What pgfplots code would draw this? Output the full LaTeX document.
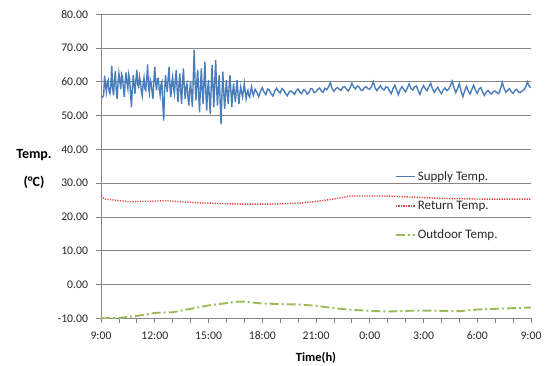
\documentclass[border=0pt]{standalone}
\usepackage{pgfplots}
\pgfplotsset{compat=1.18}
\usepackage{fontspec}
\setmainfont{Carlito}
\definecolor{supplyc}{RGB}{74,126,187}
\definecolor{returnc}{RGB}{222,70,70}
\definecolor{outc}{RGB}{155,187,89}
\definecolor{gridc}{RGB}{134,134,134}
\definecolor{txtc}{RGB}{40,40,40}
\begin{document}
\begin{tikzpicture}
\useasboundingbox (-101bp,-47.7bp) rectangle (446bp,318.3bp);
\begin{axis}[
  scale only axis,
  width=430bp, height=304bp,
  xmin=0, xmax=24, ymin=-10, ymax=80,
  axis x line*=bottom, axis y line*=left,
  axis line style={-, draw=gridc, line width=0.8bp},
  xtick={0,3,...,24},
  xticklabels={9:00,12:00,15:00,18:00,21:00,0:00,3:00,6:00,9:00},
  minor xtick={1,2,...,23},
  ytick={-10,0,...,80},
  tick align=outside,
  major tick length=4.5bp, minor tick length=4.5bp,
  tick style={draw=gridc, line width=0.8bp},
  ymajorgrids,
  grid style={draw=gridc, line width=0.8bp},
  /pgf/number format/assume math mode=true,
  ticklabel style={font=\fontsize{11.7bp}{13bp}\selectfont, text=txtc},
  yticklabel style={xshift=-5bp, /pgf/number format/fixed, /pgf/number format/fixed zerofill, /pgf/number format/precision=2},
  xticklabel style={yshift=-5.5bp},
  xlabel={\textbf{Time(h)}},
  xlabel style={font=\fontsize{12.5bp}{14bp}\selectfont, text=black, at={(axis description cs:0.5,0)}, anchor=center, yshift=-40bp},
  legend style={draw=none, fill=none, at={(0.683,0.49)}, anchor=north west,
    font=\fontsize{13bp}{15bp}\selectfont, text=txtc, row sep=15bp, inner sep=0pt},
  legend cell align=left,
  legend image code/.code={\draw[#1] (0bp,0bp) -- (19bp,0bp);},
]
\addplot[supplyc, line width=1.4bp] coordinates {
(0.00,55.5)(0.05,55.4)(0.10,55.6)(0.15,56.0)(0.20,61.8)(0.25,59.0)(0.30,57.0)(0.35,59.8)(0.40,60.5)(0.45,57.2)
(0.50,56.5)(0.55,58.8)(0.60,64.8)(0.65,58.2)(0.70,56.0)(0.75,60.4)(0.80,63.2)(0.85,57.6)(0.90,55.0)(0.95,59.5)
(1.00,62.5)(1.05,60.2)(1.10,57.8)(1.15,62.3)(1.20,61.5)(1.25,58.0)(1.30,55.5)(1.35,60.1)(1.40,62.8)(1.45,59.6)
(1.50,58.0)(1.55,62.2)(1.60,60.8)(1.65,56.4)(1.70,52.5)(1.75,58.5)(1.80,62.0)(1.85,58.8)(1.90,56.5)(1.95,60.7)
(2.00,63.5)(2.05,59.2)(2.10,58.5)(2.15,61.6)(2.20,60.0)(2.25,57.3)(2.30,55.8)(2.35,59.4)(2.40,61.2)(2.45,58.0)
(2.50,57.5)(2.55,61.0)(2.60,65.2)(2.65,58.6)(2.70,56.8)(2.75,60.6)(2.80,59.5)(2.85,57.0)(2.90,55.0)(2.95,60.3)
(3.00,64.5)(3.05,59.8)(3.10,57.5)(3.15,60.9)(3.20,61.0)(3.25,57.8)(3.30,56.0)(3.35,59.3)(3.40,60.0)(3.45,53.5)
(3.50,48.5)(3.55,57.5)(3.60,62.0)(3.65,59.0)(3.70,57.0)(3.75,61.2)(3.80,64.5)(3.85,58.4)(3.90,55.5)(3.95,59.6)
(4.00,61.5)(4.05,58.2)(4.10,56.5)(4.15,60.8)(4.20,63.5)(4.25,57.6)(4.30,54.0)(4.35,59.2)(4.40,62.5)(4.45,57.0)
(4.50,53.5)(4.55,59.8)(4.60,64.0)(4.65,58.5)(4.70,55.0)(4.75,58.6)(4.80,59.5)(4.85,55.8)(4.90,53.0)(4.95,57.4)
(5.00,60.0)(5.05,56.0)(5.10,52.5)(5.15,61.0)(5.20,69.5)(5.25,60.0)(5.30,54.5)(5.35,60.2)(5.40,63.5)(5.45,56.2)
(5.50,51.0)(5.55,58.4)(5.60,64.0)(5.65,57.4)(5.70,53.5)(5.75,60.3)(5.80,66.0)(5.85,57.0)(5.90,51.5)(5.95,57.8)
(6.00,60.5)(6.05,55.0)(6.10,50.5)(6.15,58.7)(6.20,65.0)(6.25,58.0)(6.30,52.5)(6.35,60.2)(6.40,66.5)(6.45,58.4)
(6.50,53.0)(6.55,58.1)(6.60,62.0)(6.65,54.0)(6.70,47.5)(6.75,56.2)(6.80,63.0)(6.85,57.0)(6.90,52.0)(6.95,56.6)
(7.00,60.5)(7.05,56.4)(7.10,53.5)(7.15,58.4)(7.20,62.0)(7.25,57.2)(7.30,52.5)(7.35,56.8)(7.40,59.5)(7.45,56.3)
(7.50,54.0)(7.55,57.9)(7.60,60.5)(7.65,56.2)(7.70,53.5)(7.75,56.6)(7.80,58.5)(7.85,56.8)(7.90,55.5)(7.95,57.4)
(8.00,59.5)(8.05,57.0)(8.10,55.0)(8.15,56.8)(8.20,57.5)(8.25,56.0)(8.30,55.5)(8.35,57.2)(8.40,58.5)(8.45,56.9)
(8.50,56.0)
(8.6,57.8)(8.7,56.9)(8.8,55.6)(8.9,57.1)(9.0,58.3)(9.1,57.0)(9.2,56.2)(9.3,57.9)(9.4,57.6)(9.5,56.4)
(9.6,55.8)(9.7,57.3)(9.8,58.1)(9.9,57.2)(10.0,56.7)(10.1,58.0)(10.2,57.5)(10.3,56.6)(10.4,55.9)(10.5,57.0)
(10.6,57.3)(10.7,56.9)(10.8,56.3)(10.9,57.4)(11.0,57.9)(11.1,57.0)(11.2,56.5)(11.3,57.7)(11.4,57.4)(11.5,56.4)
(11.6,56.8)(11.7,58.0)(11.8,57.9)(11.9,56.8)(12.0,57.1)(12.1,57.8)(12.2,58.2)(12.3,57.3)(12.4,56.9)(12.5,58.1)
(12.6,57.7)(12.7,58.5)(12.8,59.8)(12.9,58.0)(13.0,57.2)(13.1,58.0)(13.2,58.3)(13.3,57.8)(13.4,57.5)(13.5,58.4)
(13.6,58.6)(13.7,57.9)(13.8,57.3)(13.9,58.2)(14.0,59.6)(14.1,58.5)(14.2,57.9)(14.3,58.8)(14.4,58.5)(14.5,57.6)
(14.6,57.5)(14.7,58.3)(14.8,58.6)(14.9,58.0)(15.0,57.8)(15.1,58.7)(15.2,60.0)(15.3,58.2)(15.4,57.4)(15.5,58.2)
(15.6,58.8)(15.7,57.9)(15.8,57.6)(15.9,58.5)(16.0,58.4)(16.1,57.3)(16.2,56.5)(16.3,58.0)(16.4,59.0)(16.5,57.6)
(16.6,56.2)(16.7,57.8)(16.8,58.6)(16.9,57.7)(17.0,57.0)(17.1,58.2)(17.2,59.4)(17.3,58.1)(17.4,57.6)(17.5,58.5)
(17.6,58.8)(17.7,57.5)(17.8,56.3)(17.9,57.8)(18.0,58.9)(18.1,58.0)(18.2,57.4)(18.3,58.6)(18.4,59.6)(18.5,58.0)
(18.6,56.9)(18.7,57.8)(18.8,58.4)(18.9,57.3)(19.0,56.5)(19.1,57.6)(19.2,58.2)(19.3,57.4)(19.4,57.8)(19.5,58.9)
(19.6,60.2)(19.7,58.3)(19.8,56.8)(19.9,58.0)(20.0,59.5)(20.1,57.2)(20.2,55.6)(20.3,57.4)(20.4,58.7)(20.5,57.3)
(20.6,56.4)(20.7,57.8)(20.8,59.0)(20.9,57.5)(21.0,56.6)(21.1,57.9)(21.2,58.3)(21.3,57.0)(21.4,56.0)(21.5,56.9)
(21.6,57.5)(21.7,56.8)(21.8,56.4)(21.9,57.2)(22.0,57.3)(22.1,56.8)(22.2,56.5)(22.3,58.0)(22.4,59.8)(22.5,58.0)
(22.6,56.9)(22.7,57.5)(22.8,58.0)(22.9,57.1)(23.0,56.6)(23.1,57.4)(23.2,57.8)(23.3,57.0)(23.4,56.8)(23.5,57.3)
(23.6,57.6)(23.7,58.4)(23.8,60.0)(23.9,58.7)(24.0,58.2)
};
\addlegendentry{Supply Temp.}
\addplot[returnc, line width=1.4bp, dash pattern=on 1.2bp off 1.3bp] coordinates {
(0,26.2)(0.22,25.3)(1.6,24.5)(3.6,24.8)(5.5,24.2)(7.8,23.8)(9.4,23.8)(11.1,24.1)(12.0,24.6)
(13.1,25.4)(13.9,26.2)(15.9,26.2)(17.3,25.9)(18.9,25.5)(21.2,25.3)(24,25.3)
};
\addlegendentry{Return Temp.}
\addplot[outc, line width=1.9bp, dash pattern=on 9bp off 3bp on 2bp off 3bp] coordinates {
(0,-10)(1,-9.9)(2,-9.3)(3,-8.4)(4,-8.2)(5,-7.2)(6,-6.2)(7,-5.5)(7.5,-5.1)(8,-5.1)(9,-5.6)
(10,-5.8)(11,-5.9)(12,-6.3)(13,-7.0)(14,-7.5)(15,-7.8)(16,-8.0)(17,-7.8)(18,-7.7)(19,-7.8)
(20,-7.9)(21,-7.4)(22,-7.2)(23,-7.0)(24,-6.8)
};
\addlegendentry{Outdoor Temp.}
\end{axis}
\node[font=\fontsize{14bp}{16bp}\selectfont\bfseries] at (-67bp,163bp) {Temp.};
\node[font=\fontsize{14bp}{16bp}\selectfont\bfseries] at (-67bp,136bp) {(°C)};
\end{tikzpicture}
\end{document}
